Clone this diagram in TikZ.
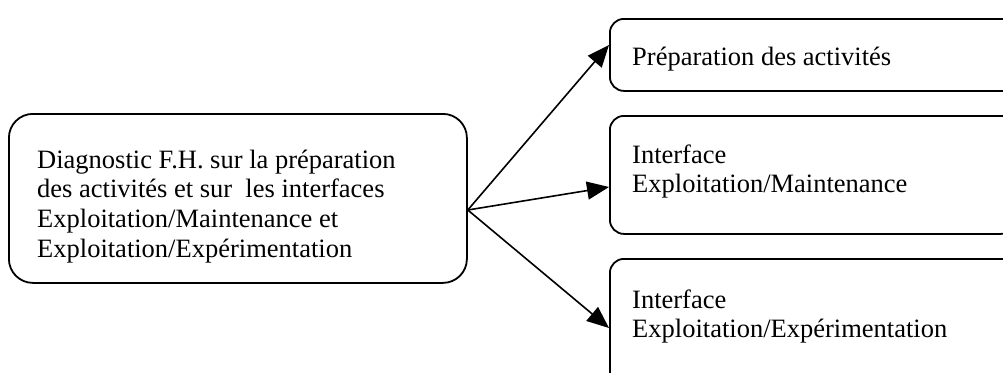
\documentclass[tikz,border=0pt]{standalone}
\usepackage{fontspec}
\setmainfont{Liberation Serif}
\usetikzlibrary{arrows.meta,calc}
\begin{document}
\begin{tikzpicture}[x=1pt,y=-1pt,
  box/.style={draw, line width=1.8pt, rounded corners=#1, inner sep=0pt, anchor=north west},
  box/.default=14pt,
  txt/.style={anchor=base west, inner sep=0pt, font=\fontsize{26.5}{29.8}\selectfont},
  arr/.style={line width=1.6pt, -{Triangle[length=22pt, width=18pt]}}]
  \useasboundingbox (0,0) rectangle (1003,372);
  \clip (0,0) rectangle (1003,372);

  % source box
  \node[box=24pt, minimum width=458pt, minimum height=169pt] (lbox) at (8,113) {};
  \node[txt] (ltxt) at (37,168) {\vtop{\hbox{Diagnostic F.H. sur la préparation}
    \hbox{des activités et sur\ \ les interfaces}
    \hbox{Exploitation/Maintenance et}
    \hbox{Exploitation/Expérimentation}}};

  % target boxes
  \node[box, minimum width=440pt, minimum height=72pt] (tbox) at (609,18) {};
  \node[txt] (ttxt) at (632,65) {Préparation des activités};

  \node[box, minimum width=405pt, minimum height=118pt] (mbox) at (609,115) {};
  \node[txt] (mtxt) at (632,163) {\vtop{\hbox{Interface}\hbox{Exploitation/Maintenance}}};

  \node[box, minimum width=405pt, minimum height=140pt] (bbox) at (609,258) {};
  \node[txt] (btxt) at (632,308) {\vtop{\hbox{Interface}\hbox{Exploitation/Expérimentation}}};

  % connectors
  \coordinate (hub) at ($(lbox.north east)+(0,97)$);
  \draw[arr] (hub) -- ($(tbox.north west)+(0,27)$);
  \draw[arr] (hub) -- ($(mbox.north west)+(0,72)$);
  \draw[arr] (hub) -- ($(bbox.north west)+(0,70)$);
\end{tikzpicture}
\end{document}
